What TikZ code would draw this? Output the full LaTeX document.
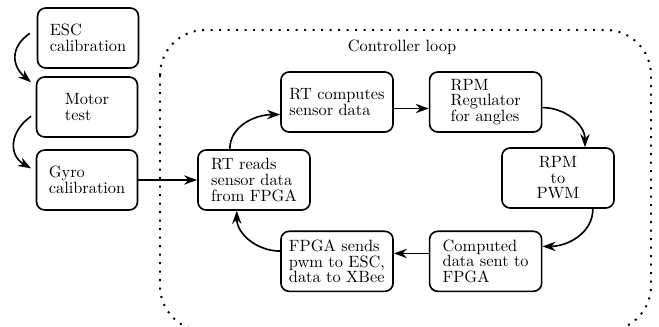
\documentclass[tikz,border=0pt]{standalone}
\usepackage{amsmath,amssymb}
\usepackage{tikz}
\usetikzlibrary{positioning,arrows.meta}

\begin{document}
\begin{tikzpicture}[
	x=0.0215cm, y=-0.0215cm, >={Stealth[length=2.8mm,width=2mm]},
	stepbox/.style={rectangle, draw, line width=1pt, rounded corners=5pt, font=\fontsize{10}{9.5}\selectfont, inner sep=2pt, minimum width=2.17cm, minimum height=1.29cm, align=left},
	loopbox/.style={rectangle, draw, line width=1pt, rounded corners=5pt, font=\fontsize{10}{9.5}\selectfont, inner sep=2pt, minimum width=2.41cm, minimum height=1.29cm, align=left},
	flow/.style={->, line width=1pt},
]
\clip (0,0) rectangle (659,327);

\node[stepbox] (esc) at (88,38) {ESC\\ calibration};
\node[stepbox] (motor) at (87,107) {Motor\\ test};
\node[stepbox] (gyro) at (87,180) {Gyro\\ calibration};

\draw[very thick, loosely dotted, rounded corners=0.97cm] (160,30) rectangle (651,331);
\node (looplabel) at (402,47) {Controller loop};

\node[loopbox] (reads) at (254,180) {RT reads\\ sensor data\\ from FPGA};
\node[loopbox] (computes) at (337,102) {RT computes\\ sensor data};
\node[loopbox] (regulator) [right=0.75cm of computes]{RPM\\ Regulator\\ for angles};
\node[loopbox, align=center] (pwm) at (558,178) {RPM\\ to\\ PWM};
\node[loopbox] (computed) [below=2.1cm of regulator]{Computed\\ data sent to\\ FPGA};
\node[loopbox] (sends) [left=0.75cm of computed]{FPGA sends\\ pwm to ESC,\\ data to XBee};

\draw[flow]([xshift=-1.5mm,yshift=1mm]esc.west) to[out=215,in=140,looseness=1.3] ([xshift=-1mm,yshift=-1.3mm]motor.north west);
\draw[flow]([xshift=-1mm,yshift=-2mm]motor.west) to[out=215,in=150,looseness=1.3] ([xshift=-1mm,yshift=2.5mm]gyro.west);
\draw[flow](gyro.east)--(reads.west);
\draw[flow]([xshift=-5.2mm]reads.north) to[out=90,in=180] ([yshift=-2.7mm]computes.west);
\draw[flow]([yshift=-1.4mm]computes.east)--([yshift=-1.4mm]regulator.west);
\draw[flow]([yshift=-1.2mm]regulator.east) to[out=0,in=90] ([xshift=5.8mm]pwm.north);
\draw[flow]([xshift=7.5mm]pwm.south) to[out=-90,in=0] ([yshift=3.2mm]computed.east);
\draw[flow]([yshift=1.7mm]computed.west)--([yshift=1.7mm]sends.east);
\draw[flow]([yshift=2.2mm]sends.west) to[out=180,in=-90] ([xshift=-3.7mm]reads.south);

\end{tikzpicture}
\end{document}
